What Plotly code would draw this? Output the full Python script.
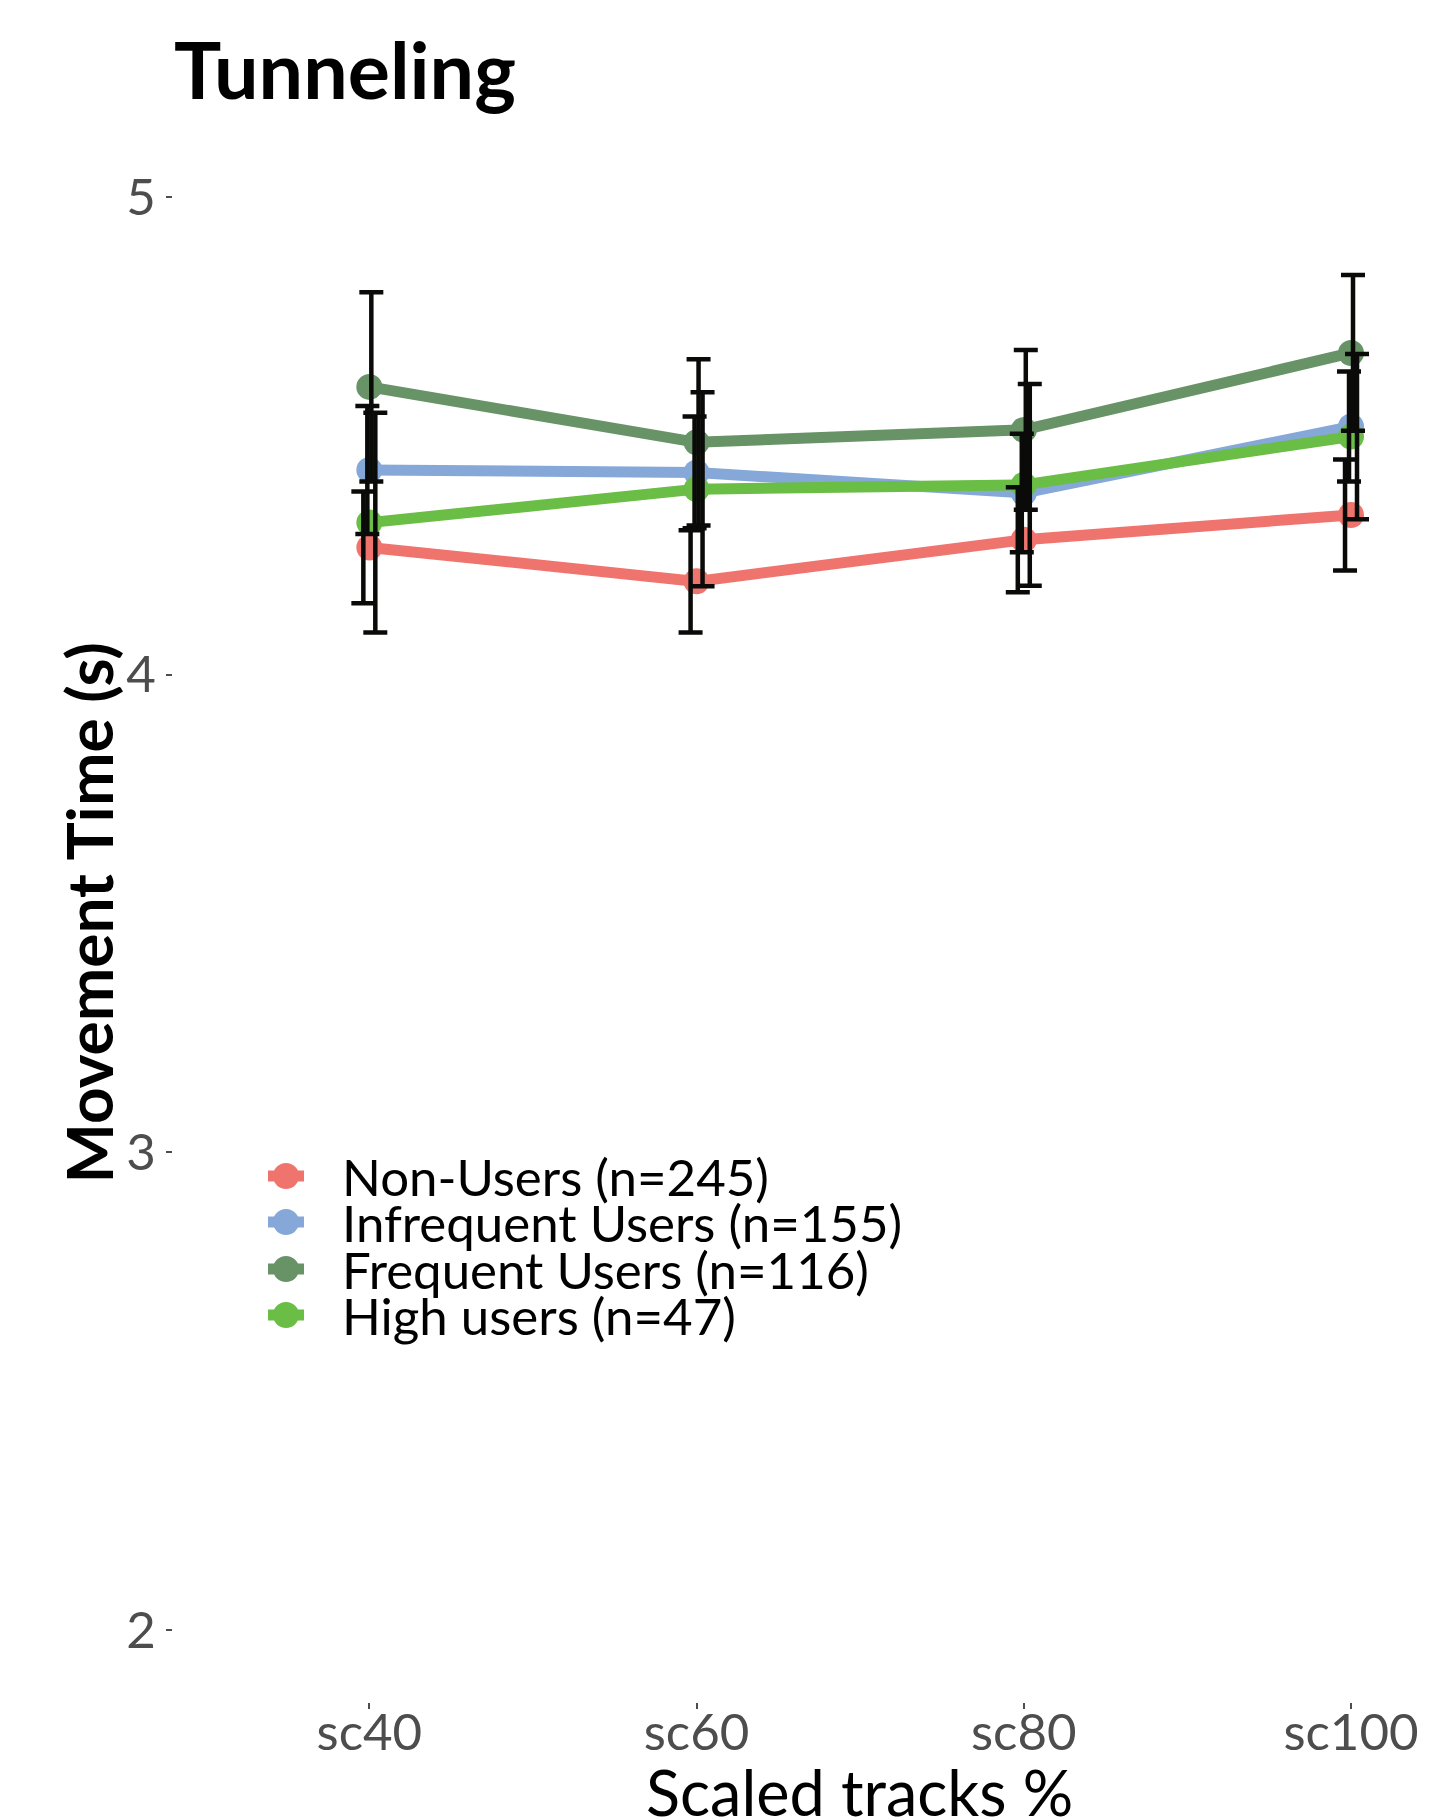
import plotly.graph_objects as go

# ---------------- data ----------------
categories = ["sc40", "sc60", "sc80", "sc100"]
group_names = ["Non-Users (n=245)", "Infrequent Users (n=155)",
               "Frequent Users (n=116)", "High users (n=47)"]
group_colors = ["#F0746E", "#85A8D8", "#679367", "#6ABD45"]

mean_non = [4.266, 4.195, 4.282, 4.334]
mean_infrequent = [4.428, 4.423, 4.380, 4.519]
mean_frequent = [4.602, 4.486, 4.512, 4.673]
mean_high = [4.318, 4.388, 4.397, 4.498]

err_non = [0.117, 0.107, 0.110, 0.116]
err_infrequent = [0.134, 0.117, 0.124, 0.115]
err_frequent = [0.198, 0.174, 0.167, 0.163]
err_high = [0.230, 0.203, 0.211, 0.173]

y_ticks = [2, 3, 4, 5]

means = [mean_non, mean_infrequent, mean_frequent, mean_high]
errs = [err_non, err_infrequent, err_frequent, err_high]

# ---------------- layout geometry ----------------
W, H = 1430, 1819
L, R, T, B = 173, 0, 125, 117
PW = W - L - R
PH = H - T - B
X_RANGE = [-0.6, 3 + (W - 1351) / 327.3]
Y_RANGE = [1.85, 5.15]
DODGE = 0.0122
FONT = "Lato"

xpos = list(range(len(categories)))

fig = go.Figure()

# lines + points
for name, col, m in zip(group_names, group_colors, means):
    fig.add_trace(go.Scatter(
        x=xpos, y=m, name=name, mode="lines+markers",
        line=dict(color=col, width=11),
        marker=dict(color=col, size=26),
        showlegend=False,
    ))

# error bars (dodged)
for k, (name, m, e) in enumerate(zip(group_names, means, errs)):
    off = (k - 1.5) * DODGE
    fig.add_trace(go.Scatter(
        x=[x + off for x in xpos], y=m, mode="markers",
        marker=dict(size=1, color="rgba(0,0,0,0)"),
        error_y=dict(type="data", array=e, visible=True,
                     color="#0a0a08", thickness=4.5, width=12),
        showlegend=False, hoverinfo="skip", name=name,
    ))

# ---------------- custom legend ----------------
def px_to_paper_x(px):
    return (px - L) / PW


def px_to_paper_y(py):
    return (H - B - py) / PH


legend_y = [1176, 1222, 1269, 1315]
glyph_cx = 286
text_x = 340
shapes = []
annotations = []
for name, col, ly in zip(group_names, group_colors, legend_y):
    shapes.append(dict(
        type="line", xref="paper", yref="paper",
        x0=px_to_paper_x(glyph_cx - 18), x1=px_to_paper_x(glyph_cx + 18),
        y0=px_to_paper_y(ly), y1=px_to_paper_y(ly),
        line=dict(color=col, width=11),
    ))
    shapes.append(dict(
        type="circle", xref="paper", yref="paper",
        x0=px_to_paper_x(glyph_cx - 13), x1=px_to_paper_x(glyph_cx + 13),
        y0=px_to_paper_y(ly + 13), y1=px_to_paper_y(ly - 13),
        fillcolor=col, line=dict(width=0),
    ))
    annotations.append(dict(
        text=name, xref="paper", yref="paper",
        x=px_to_paper_x(text_x), y=px_to_paper_y(ly),
        xanchor="left", yanchor="middle", showarrow=False,
        font=dict(family=FONT, size=51, color="black"),
    ))

# x-axis title (centred on the full ggplot panel, which extends past the edge)
annotations.append(dict(
    text="Scaled tracks %", xref="paper", yref="paper",
    x=px_to_paper_x(859), y=px_to_paper_y(1752),
    xanchor="center", yanchor="top", showarrow=False,
    font=dict(family=FONT, size=63, color="black"),
))

# y-axis title
annotations.append(dict(
    text="<b>Movement Time (s)</b>", xref="paper", yref="paper",
    x=px_to_paper_x(88), y=0.5, textangle=-90,
    xanchor="center", yanchor="middle", showarrow=False,
    font=dict(family=FONT, size=64, color="black"),
))

fig.update_layout(
    width=W, height=H,
    margin=dict(l=L, r=R, t=T, b=B, autoexpand=False),
    paper_bgcolor="white", plot_bgcolor="white",
    title=dict(text="<b>Tunneling</b>", x=174 / W, xref="container",
               xanchor="left", y=1 - 44 / H, yref="container", yanchor="top",
               font=dict(family=FONT, size=79, color="black")),
    font=dict(family=FONT),
    shapes=shapes,
    annotations=annotations,
    showlegend=False,
)

fig.update_xaxes(
    range=X_RANGE, tickvals=xpos, ticktext=categories,
    showgrid=False, zeroline=False, showline=False, automargin=False,
    ticks="outside", ticklen=6, tickwidth=2, tickcolor="#4d4d4d",
    ticklabelstandoff=-20,
    tickfont=dict(family=FONT, size=51, color="#4d4d4d"),
)
fig.update_yaxes(
    range=Y_RANGE, tickvals=y_ticks,
    showgrid=False, zeroline=False, showline=False, automargin=False,
    ticks="outside", ticklen=6, tickwidth=2, tickcolor="#4d4d4d",
    tickfont=dict(family=FONT, size=51, color="#4d4d4d"),
)

fig.write_html(
    "out.html",
    config={"displayModeBar": False},
    post_script="document.body.style.margin='0';document.body.style.padding='0';",
)
